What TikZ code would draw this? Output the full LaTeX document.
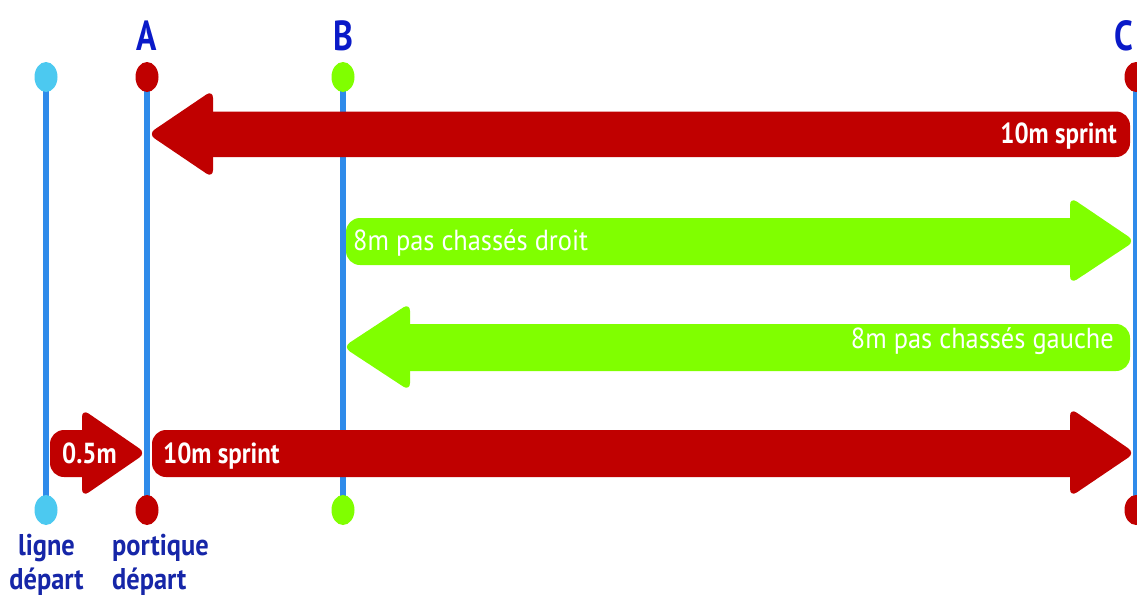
\documentclass[tikz,border=0pt]{standalone}
\usepackage{fontspec}
\setmainfont{PT Sans}[FakeStretch=0.8]
\newfontfamily\redfont{PT Sans}[FakeStretch=0.86]
\newfontfamily\greenfont{PT Sans}[FakeStretch=0.91]
\newfontfamily\basfont{PT Sans}[FakeStretch=0.88]
\definecolor{postblue}{HTML}{2F8BEA}
\definecolor{dotcyan}{HTML}{4CC9F0}
\definecolor{dred}{HTML}{C00000}
\definecolor{lgreen}{HTML}{80FF00}
\definecolor{labblue}{HTML}{0A1AC8}
\definecolor{txtblue}{HTML}{1626A8}
\tikzset{
  post/.style={line width=6pt, postblue},
  shaft/.style={rounded corners=14pt},
  head/.style={rounded corners=8pt},
  armtext/.style={text=white, font=\redfont\bfseries\fontsize{29}{30}\selectfont, inner sep=0pt},
  greentext/.style={text=white, font=\greenfont\fontsize{29}{30}\selectfont, inner sep=0pt},
  postlab/.style={text=labblue, font=\bfseries\fontsize{42}{44}\selectfont, inner sep=0pt, anchor=base},
  baslab/.style={text=txtblue, font=\basfont\bfseries\fontsize{30}{32}\selectfont, inner sep=0pt},
}
\begin{document}
\begin{tikzpicture}[x=1pt,y=-1pt]
\useasboundingbox (0,0) rectangle (1137,597);
\clip (0,0) rectangle (1137,597);
% posts
\coordinate (L) at (46,0);
\coordinate (A) at (147,0);
\coordinate (B) at (343,0);
\coordinate (C) at (1136,0);
\foreach \p/\c in {L/dotcyan, A/dred, B/lgreen, C/dred}{
  \draw[post] (\p |- 0,77) -- (\p |- 0,510);
  \fill[\c] (\p |- 0,77) ellipse [x radius=11.5pt, y radius=15pt];
  \fill[\c] (\p |- 0,510) ellipse [x radius=11.5pt, y radius=15pt];
}
\node[postlab] (labA) at (147,50) {A};
\node[postlab] (labB) at (343,50) {B};
\node[postlab] (labC) at (1124,50) {C};
% arrow 1: red, leftward, top
\fill[dred, shaft] (195,111.5) rectangle (1130,157);
\fill[dred, head] (213,90) -- (148,134) -- (213,178) -- cycle;
\node[armtext, anchor=base east] (t1) at (1117,143) {10m sprint};
% arrow 2: green, rightward
\fill[lgreen, shaft] (346,218) rectangle (1090,265);
\fill[lgreen, head] (1070,197) -- (1135,241) -- (1070,284) -- cycle;
\node[greentext, anchor=base west] (t2) at (353,250) {8m pas chassés droit};
% arrow 3: green, leftward
\fill[lgreen, shaft] (390,324) rectangle (1130,371);
\fill[lgreen, head] (410,303) -- (343,347) -- (410,391) -- cycle;
\node[greentext, anchor=base east] (t3) at (1114,348) {8m pas chassés gauche};
% arrow 4: red, rightward, bottom
\fill[dred, shaft] (152,430) rectangle (1090,477);
\fill[dred, head] (1070,408) -- (1135,453) -- (1070,497) -- cycle;
\node[armtext, anchor=base west] (t4) at (163,463) {10m sprint};
% arrow 5: small red 0.5m
\fill[dred, shaft] (50,430) rectangle (100,477);
\fill[dred, head] (82,409) -- (146,453) -- (82,497) -- cycle;
\node[armtext, anchor=base west] (t5) at (62,463) {0.5m};
% bottom labels
\node[baslab, anchor=base] (l1) at (46.5,555) {ligne};
\node[baslab, anchor=base] (l2) at (46.5,589) {départ};
\node[baslab, anchor=base west] (p1) at (112,555) {portique};
\node[baslab, anchor=base west] (p2) at (112,589) {départ};
\end{tikzpicture}
\end{document}
